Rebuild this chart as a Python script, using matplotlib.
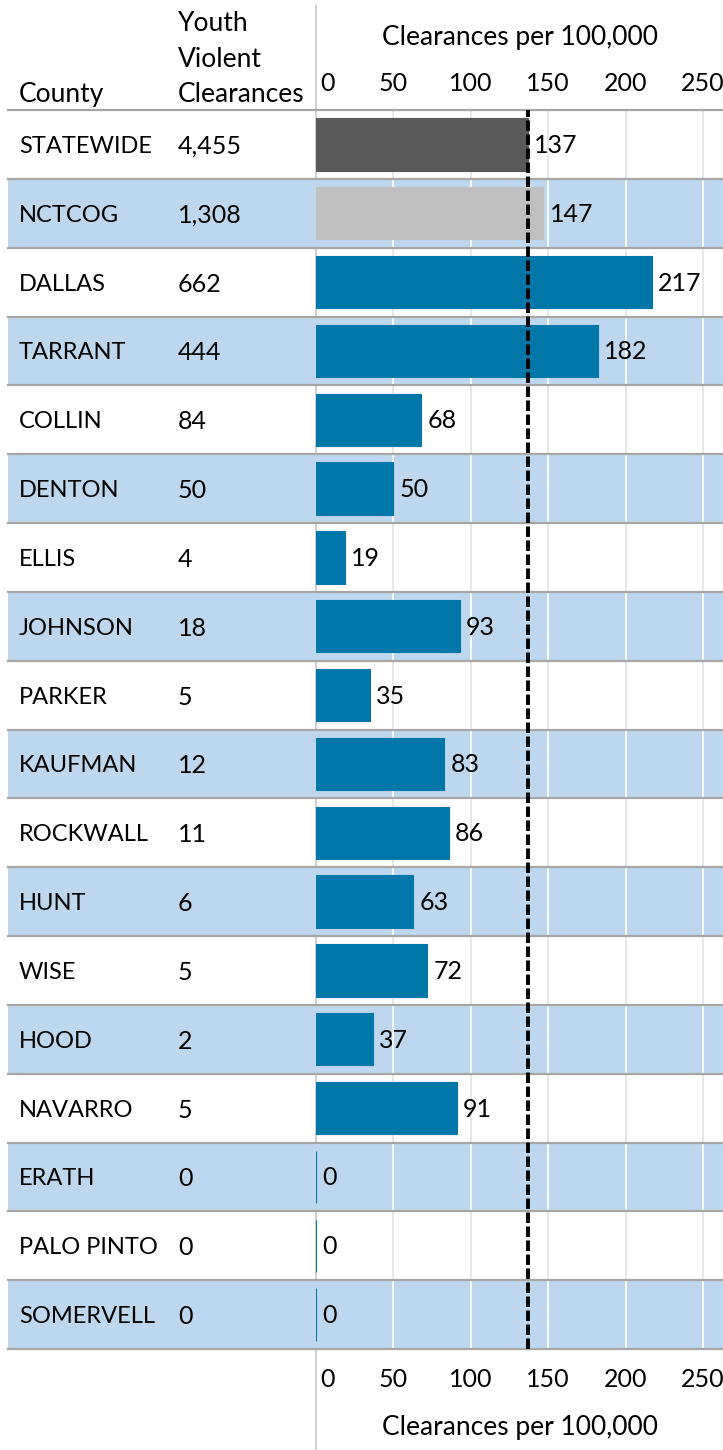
import matplotlib
matplotlib.use("Agg")
import matplotlib.pyplot as plt
from matplotlib.transforms import blended_transform_factory, offset_copy

plt.rcParams['font.family'] = ['Lato', 'DejaVu Sans']

counties = ["STATEWIDE", "NCTCOG", "DALLAS", "TARRANT", "COLLIN", "DENTON", "ELLIS",
            "JOHNSON", "PARKER", "KAUFMAN", "ROCKWALL", "HUNT", "WISE", "HOOD",
            "NAVARRO", "ERATH", "PALO PINTO", "SOMERVELL"]
clearances = ["4,455", "1,308", "662", "444", "84", "50", "4", "18", "5", "12", "11",
              "6", "5", "2", "5", "0", "0", "0"]
rates = [137, 147, 217, 182, 68, 50, 19, 93, 35, 83, 86, 63, 72, 37, 91, 0, 0, 0]
statewide_rate = 137
ticks = [0, 50, 100, 150, 200, 250]
axis_title = "Clearances per 100,000"
col_headers = ["County", "Youth\nViolent\nClearances"]

W, H = 723, 1450
fig = plt.figure(figsize=(W / 100, H / 100), dpi=100)
ax_l, ax_r, ax_t, ax_b = 316, 723, 110, 1349
ax = fig.add_axes([ax_l / W, 1 - ax_b / H, (ax_r - ax_l) / W, (ax_b - ax_t) / H])
ax.set_facecolor('none')

n = len(counties)
ax.set_xlim(0, 263)
ax.set_ylim(n - 0.5, -0.5)

band_color = '#BDD7EE'
line_color = '#A6A6A6'
left_frac = (8 - ax_l) / (ax_r - ax_l)
FS_NAME = 17
FS_NUM = 18
FS_HEAD = 19

for i in range(n):
    banded = (i % 2 == 1)
    if banded:
        ax.axhspan(i - 0.5, i + 0.5, xmin=left_frac, xmax=1, color=band_color,
                   lw=0, clip_on=False, zorder=0)
    ax.vlines(ticks[1:], i - 0.5, i + 0.5, colors='white' if banded else '#E6E6E6',
              lw=1.3, zorder=1)

for b in range(n + 1):
    ax.axhline(b - 0.5, xmin=left_frac, xmax=1, color=line_color, lw=1.6,
               clip_on=False, zorder=2)

colors = ['#595959', '#BFBFBF'] + ['#0077A8'] * (n - 2)
ax.barh(range(n), rates, height=0.76, color=colors, edgecolor=colors, lw=0.8, zorder=3)

ax.axvline(statewide_rate, color='black', lw=2.8, ls=(0, (2.7, 0.9)), zorder=4)

val_tr = offset_copy(ax.transData, fig=fig, x=6, y=-1, units='dots')
for i, v in enumerate(rates):
    ax.text(v, i, str(v), transform=val_tr, ha='left', va='center', fontsize=FS_NUM,
            color='black', zorder=5)

# table columns
tr = offset_copy(blended_transform_factory(fig.transFigure, ax.transData), fig=fig,
                 x=0, y=-2, units='dots')
for i in range(n):
    ax.text(19 / W, i, counties[i], transform=tr, ha='left', va='center', fontsize=FS_NAME)
    ax.text(178 / W, i, clearances[i], transform=tr, ha='left', va='center', fontsize=FS_NUM)

fig.text(19 / W, 1 - 102 / H, col_headers[0], ha='left', va='baseline', fontsize=FS_HEAD)
fig.text(178 / W, 1 - 102 / H, col_headers[1], ha='left', va='baseline', fontsize=FS_HEAD,
         linespacing=1.52)

# axes styling
for s in ax.spines.values():
    s.set_visible(False)
ax.set_yticks([])
ax.set_xticks(ticks)
ax.tick_params(axis='x', length=0, labelsize=FS_NUM, labeltop=False, labelbottom=True,
               top=False, bottom=False, pad=14)
ax.set_xlabel(axis_title, fontsize=FS_HEAD, labelpad=17)

sec = ax.secondary_xaxis('top')
sec.set_xticks(ticks)
sec.tick_params(axis='x', length=0, labelsize=FS_NUM, pad=11)
for s in sec.spines.values():
    s.set_visible(False)
fig.text((ax_l + ax_r) / 2 / W, 1 - 38 / H, axis_title, ha='center', va='center',
         fontsize=FS_HEAD)

fig.canvas.draw()
for axis in (ax.xaxis, sec.xaxis):
    for t in axis.get_major_ticks():
        if t.get_loc() == 0:
            for lab in (t.label1, t.label2):
                lab.set_horizontalalignment('left')
                lab.set_transform(offset_copy(lab.get_transform(), fig=fig, x=4, y=0,
                                              units='dots'))

# vertical axis line
fig.add_artist(plt.Line2D([ax_l / W, ax_l / W], [0, 1 - 6 / H], transform=fig.transFigure,
                          color='#D0D0D0', lw=1.5, zorder=0))

fig.savefig("out.png", dpi=100)
